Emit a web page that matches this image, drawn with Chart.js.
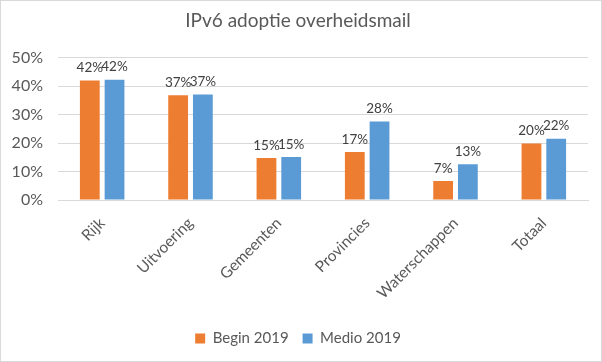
<!DOCTYPE html>
<html>
<head>
<meta charset="utf-8">
<script src="https://cdn.jsdelivr.net/npm/chart.js@4/dist/chart.umd.min.js"></script>
<style>
  html, body { margin: 0; padding: 0; background: #fff; }
  #wrap { width: 602px; height: 362px; }
</style>
</head>
<body>
<div id="wrap"><canvas id="myChart" width="602" height="362"></canvas></div>
<script>
var categories = ['Rijk', 'Uitvoering', 'Gemeenten', 'Provincies', 'Waterschappen', 'Totaal'];
var begin2019 = [42.0, 36.8, 14.8, 16.9, 6.7, 19.9];
var medio2019 = [42.3, 37.1, 15.1, 27.6, 12.6, 21.5];
var tickValues = [0, 10, 20, 30, 40, 50];

// labels boven de staven tekenen
var valueLabels = {
    id: 'valueLabels',
    afterDatasetsDraw: function(chart) {
        var ctx = chart.ctx;
        ctx.save();
        ctx.font = '13.5px Lato';
        ctx.fillStyle = '#404040';
        ctx.textAlign = 'center';
        ctx.textBaseline = 'bottom';
        chart.data.datasets.forEach(function(ds, i) {
            chart.getDatasetMeta(i).data.forEach(function(bar, j) {
                ctx.fillText(Math.round(ds.data[j]) + '%', bar.x, bar.y - 6);
            });
        });
        ctx.restore();
    }
};

var frame = {
    id: 'frame',
    beforeDraw: function(chart) {
        var ctx = chart.ctx;
        ctx.save();
        ctx.fillStyle = '#fff';
        ctx.fillRect(0, 0, chart.width, chart.height);
        ctx.strokeStyle = '#D9D9D9';
        ctx.lineWidth = 1;
        ctx.strokeRect(0.5, 0.5, chart.width - 1, chart.height - 1);
        ctx.restore();
    }
};

var ctx = document.getElementById('myChart').getContext('2d');
var chart = new Chart(ctx, {
    type: 'bar',
    data: {
        labels: categories,
        datasets: [{
            label: 'Begin 2019',
            backgroundColor: '#ED7D31',
            data: begin2019
        }, {
            label: 'Medio 2019',
            backgroundColor: '#5B9BD5',
            data: medio2019
        }]
    },
    options: {
        responsive: false,
        animation: false,
        datasets: {
            bar: { categoryPercentage: 0.56, barPercentage: 0.8 }
        },
        layout: { padding: { left: 8, right: 14, top: 0, bottom: 6 } },
        plugins: {
            title: {
                display: true,
                text: 'IPv6 adoptie overheidsmail',
                color: '#595959',
                font: { family: 'Lato', size: 19, weight: 'normal' },
                padding: { top: 9, bottom: 26 }
            },
            legend: {
                position: 'bottom',
                labels: {
                    color: '#595959',
                    font: { family: 'Lato', size: 15 },
                    boxWidth: 10,
                    boxHeight: 10,
                    padding: 14
                }
            },
            tooltip: { enabled: false }
        },
        scales: {
            x: {
                grid: { display: false },
                border: { display: true, color: '#D9D9D9' },
                ticks: {
                    color: '#595959',
                    font: { family: 'Lato', size: 15.5 },
                    minRotation: 45,
                    maxRotation: 45,
                    padding: 6
                },
                afterFit: function(scale) { scale.height = 117; }
            },
            y: {
                min: 0,
                max: 50,
                afterBuildTicks: function(scale) {
                    scale.ticks = tickValues.map(function(v) { return { value: v }; });
                },
                grid: { color: '#D9D9D9', drawTicks: false },
                border: { display: false },
                ticks: {
                    color: '#595959',
                    font: { family: 'Lato', size: 16 },
                    padding: 15,
                    callback: function(v) { return v + '%'; }
                },
                afterFit: function(scale) { scale.width = 50; }
            }
        }
    },
    plugins: [frame, valueLabels]
});
</script>
</body>
</html>
